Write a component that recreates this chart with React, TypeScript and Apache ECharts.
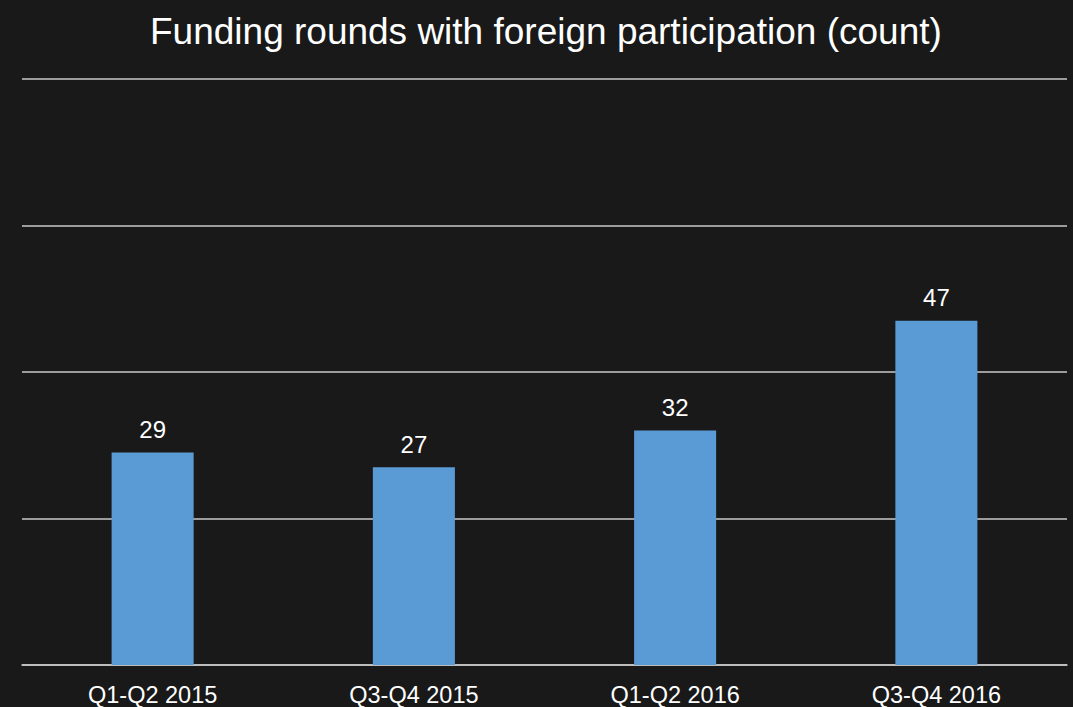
import React, { useEffect, useRef } from "react";
import * as echarts from "echarts";

const categories = ["Q1-Q2 2015", "Q3-Q4 2015", "Q1-Q2 2016", "Q3-Q4 2016"];
const values = [29, 27, 32, 47];
const titleText = "Funding rounds with foreign participation (count)";

export default function App() {
  const ref = useRef<HTMLDivElement>(null);
  useEffect(() => {
    document.body.style.margin = "0";
    const chart = echarts.init(ref.current!, null, { renderer: "svg" });
    const font = "'Liberation Sans', Arial, sans-serif";
    chart.setOption({
      animation: false,
      backgroundColor: "#191919",
      title: {
        text: titleText,
        left: 145,
        top: 8,
        textStyle: { color: "#ffffff", fontSize: 37, fontWeight: "normal", fontFamily: font },
      },
      grid: { left: 22, right: 6, top: 79, bottom: 42, containLabel: false },
      xAxis: {
        type: "category",
        data: categories,
        axisLine: { show: true, lineStyle: { color: "#c8c8c8", width: 1.5 } },
        axisTick: { show: false },
        axisLabel: { color: "#ffffff", fontSize: 23.5, fontFamily: font, margin: 18 },
      },
      yAxis: {
        type: "value",
        min: 0,
        max: 80,
        interval: 20,
        axisLabel: { show: false },
        axisLine: { show: false },
        axisTick: { show: false },
        splitLine: { lineStyle: { color: "#c8c8c8", width: 1.5 } },
      },
      series: [
        {
          type: "bar",
          data: values,
          barWidth: "31.4%",
          itemStyle: { color: "#5b9bd5" },
          label: {
            show: true,
            position: "top",
            distance: 11,
            color: "#ffffff",
            fontSize: 24,
            fontFamily: font,
          },
        },
      ],
    });
    return () => chart.dispose();
  }, []);
  return <div ref={ref} style={{ position: "absolute", left: 0, top: 0, width: 1073, height: 707 }} />;
}
